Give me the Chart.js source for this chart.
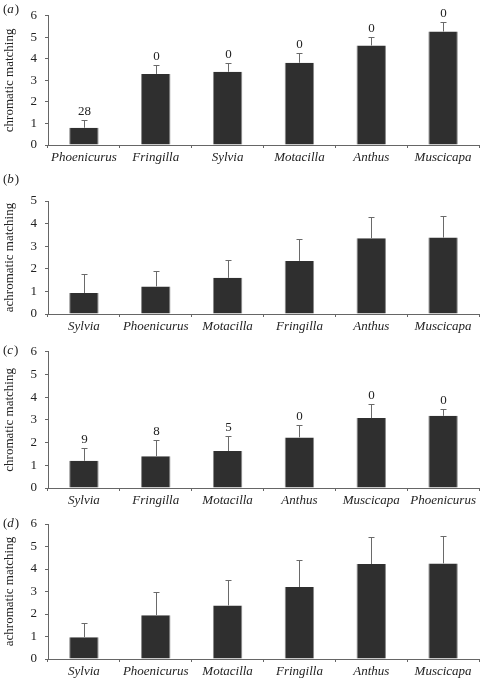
<!DOCTYPE html>
<html>
<head>
<meta charset="utf-8">
<script src="https://cdn.jsdelivr.net/npm/chart.js@4.4.1/dist/chart.umd.min.js"></script>
<style>
  html, body { margin: 0; padding: 0; background: #fff; }
  #wrap { position: relative; width: 481px; height: 678px; }
  canvas { position: absolute; left: 0; }
</style>
</head>
<body>
<div id="wrap">
  <canvas id="chartA" width="481" height="166" style="top:0px"></canvas>
  <canvas id="chartB" width="481" height="170" style="top:166px"></canvas>
  <canvas id="chartC" width="481" height="172" style="top:336px"></canvas>
  <canvas id="chartD" width="481" height="170" style="top:508px"></canvas>
</div>
<script>
// (a) chromatic matching
const speciesA = ['Phoenicurus', 'Fringilla', 'Sylvia', 'Motacilla', 'Anthus', 'Muscicapa'];
const chromaticA = [0.8, 3.3, 3.4, 3.82, 4.62, 5.27];
const chromaticUpperA = [1.18, 3.72, 3.8, 4.25, 5.02, 5.73];
const countsA = ['28', '0', '0', '0', '0', '0'];

// (b) achromatic matching
const speciesB = ['Sylvia', 'Phoenicurus', 'Motacilla', 'Fringilla', 'Anthus', 'Muscicapa'];
const achromaticB = [0.93, 1.22, 1.6, 2.35, 3.35, 3.38];
const achromaticUpperB = [1.77, 1.9, 2.37, 3.3, 4.3, 4.33];

// (c) chromatic matching
const speciesC = ['Sylvia', 'Fringilla', 'Motacilla', 'Anthus', 'Muscicapa', 'Phoenicurus'];
const chromaticC = [1.2, 1.4, 1.63, 2.23, 3.08, 3.18];
const chromaticUpperC = [1.78, 2.1, 2.27, 2.77, 3.7, 3.47];
const countsC = ['9', '8', '5', '0', '0', '0'];

// (d) achromatic matching
const speciesD = ['Sylvia', 'Phoenicurus', 'Motacilla', 'Fringilla', 'Anthus', 'Muscicapa'];
const achromaticD = [0.97, 1.95, 2.38, 3.2, 4.22, 4.25];
const achromaticUpperD = [1.6, 3.0, 3.52, 4.38, 5.42, 5.45];

const FONT = "'Liberation Serif', 'DejaVu Serif', serif";

// upper error bar + count above it
const errorBars = {
  id: 'errorBars',
  afterDatasetsDraw(chart, args, opts) {
    const ctx = chart.ctx;
    const y = chart.scales.y;
    const meta = chart.getDatasetMeta(0);
    ctx.save();
    ctx.strokeStyle = '#6a6a6a';
    ctx.lineWidth = 1;
    ctx.fillStyle = '#222';
    ctx.font = '13px ' + FONT;
    ctx.textAlign = 'center';
    ctx.textBaseline = 'bottom';
    meta.data.forEach((bar, i) => {
      const x = Math.round(bar.x) + 0.5;
      const top = Math.round(y.getPixelForValue(opts.upper[i])) + 0.5;
      ctx.beginPath();
      ctx.moveTo(x, bar.y);
      ctx.lineTo(x, top);
      ctx.moveTo(x - 3, top);
      ctx.lineTo(x + 3, top);
      ctx.stroke();
      if (opts.counts) {
        ctx.fillText(opts.counts[i], x, top - 2);
      }
    });
    ctx.restore();
  }
};

// "(a)" style panel tag, letter in italics
const panelTag = {
  id: 'panelTag',
  afterDraw(chart, args, opts) {
    const ctx = chart.ctx;
    ctx.save();
    ctx.fillStyle = '#222';
    ctx.textBaseline = 'middle';
    ctx.textAlign = 'left';
    let x = 3;
    const parts = [['(', ''], [opts.letter, 'italic '], [')', '']];
    parts.forEach(([t, style]) => {
      ctx.font = style + '13px ' + FONT;
      ctx.fillText(t, x, opts.y);
      x += ctx.measureText(t).width + (style ? 1 : 0);
    });
    ctx.restore();
  }
};

function makePanel(id, labels, values, upper, counts, opts) {
  const ctx = document.getElementById(id).getContext('2d');
  return new Chart(ctx, {
    type: 'bar',
    data: {
      labels: labels,
      datasets: [{
        data: values,
        backgroundColor: '#2f2f2f',
        borderColor: '#8a8a8a',
        borderWidth: { left: 1, right: 1, top: 0, bottom: 0 },
        barPercentage: 0.41,
        categoryPercentage: 1,
      }],
    },
    options: {
      responsive: false,
      animation: false,
      layout: { padding: { top: opts.top, right: 2, left: 0, bottom: 0 } },
      plugins: {
        legend: { display: false },
        tooltip: { enabled: false },
        errorBars: { upper: upper, counts: counts },
        panelTag: { letter: opts.letter, y: opts.tagY },
      },
      scales: {
        x: {
          afterFit: s => { s.height = opts.xHeight; },
          grid: { offset: true, drawOnChartArea: false, drawTicks: true, tickLength: 3, color: '#666' },
          border: { color: '#666' },
          ticks: {
            padding: 2,
            color: '#222',
            maxRotation: 0,
            autoSkip: false,
            font: { family: FONT, size: 13, style: 'italic' },
          },
        },
        y: {
          min: 0,
          max: opts.max,
          afterFit: s => { s.width = 48; },
          grid: { drawOnChartArea: false, drawTicks: true, tickLength: 3, color: '#666' },
          border: { color: '#666' },
          ticks: {
            stepSize: 1,
            padding: 8,
            color: '#222',
            font: { family: FONT, size: 13 },
          },
          title: {
            display: true,
            text: opts.title,
            color: '#222',
            padding: { top: 2, bottom: 0 },
            font: { family: FONT, size: 13 },
          },
        },
      },
    },
    plugins: [errorBars, panelTag],
  });
}

makePanel('chartA', speciesA, chromaticA, chromaticUpperA, countsA,
  { max: 6, top: 10, xHeight: 21, title: 'chromatic matching', letter: 'a', tagY: 10 });
makePanel('chartB', speciesB, achromaticB, achromaticUpperB, null,
  { max: 5, top: 35, xHeight: 22, title: 'achromatic matching', letter: 'b', tagY: 14 });
makePanel('chartC', speciesC, chromaticC, chromaticUpperC, countsC,
  { max: 6, top: 15, xHeight: 20, title: 'chromatic matching', letter: 'c', tagY: 15 });
makePanel('chartD', speciesD, achromaticD, achromaticUpperD, null,
  { max: 6, top: 16, xHeight: 19, title: 'achromatic matching', letter: 'd', tagY: 16 });
</script>
</body>
</html>
